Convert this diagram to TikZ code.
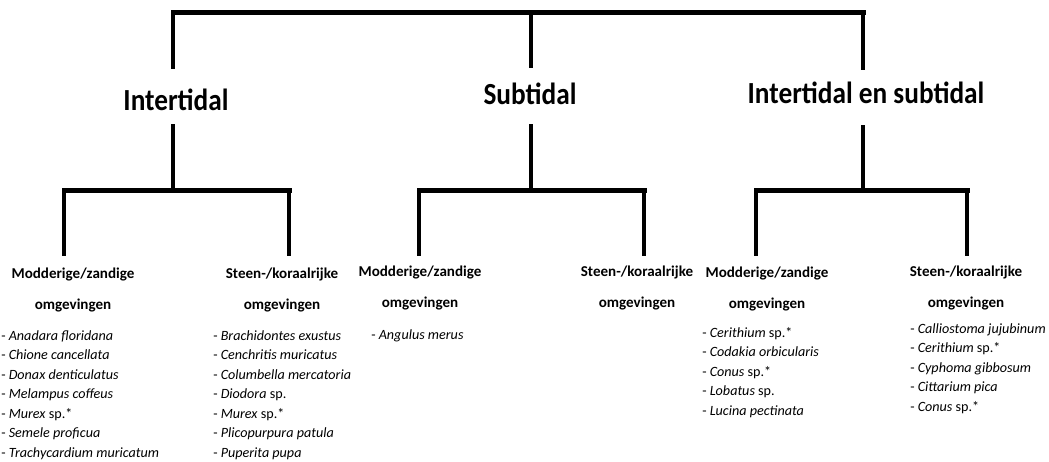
\documentclass[tikz,border=0pt]{standalone}
\usepackage{fontspec}
\setmainfont{Carlito}
\newfontfamily\zonefont[FakeStretch=0.89]{Carlito}
\usetikzlibrary{positioning}

\begin{document}
\begin{tikzpicture}[x=0.75pt,y=-0.75pt,
	crossbar/.style={line width=3.75pt,line cap=rect},
	stemline/.style={line width=2.6pt},
	zone/.style={font=\zonefont\bfseries\fontsize{23}{26}\selectfont,anchor=base,inner sep=0pt},
	habitat/.style={font=\bfseries\fontsize{11.3}{23.25}\selectfont,align=center,anchor=base,inner sep=0pt},
	species/.style={font=\fontsize{10.6}{14.6}\selectfont,align=left,anchor=base west,inner sep=0pt}]
	\useasboundingbox (0,0) rectangle (1049,461);

	% zones
	\node[zone] (inter) at (176,110) {Intertidal};
	\node[zone] (subt)  at (530,104) {Subtidal};
	\node[zone] (both)  at (866,103) {Intertidal en subtidal};

	% habitats (anchored at the last line)
	\node[habitat] (mudI)  at (73,309)  {Modderige/zandige\\omgevingen};
	\node[habitat] (rockI) at (282,309) {Steen-/koraalrijke\\omgevingen};
	\node[habitat] (mudS)  at (420,307) {Modderige/zandige\\omgevingen};
	\node[habitat] (rockS) at (637,307) {Steen-/koraalrijke\\omgevingen};
	\node[habitat] (mudB)  at (767,308) {Modderige/zandige\\omgevingen};
	\node[habitat] (rockB) at (966,307) {Steen-/koraalrijke\\omgevingen};

	% species (anchored at the last line)
	\node[species] (listMudI) at (1,457) {- \textit{Anadara floridana}\\- \textit{Chione cancellata}\\- \textit{Donax denticulatus}\\- \textit{Melampus coffeus}\\- \textit{Murex} sp.*\\- \textit{Semele proficua}\\- \textit{Trachycardium muricatum}};
	\node[species] (listRockI) at (213,457) {- \textit{Brachidontes exustus}\\- \textit{Cenchritis muricatus}\\- \textit{Columbella mercatoria}\\- \textit{Diodora} sp.\\- \textit{Murex} sp.*\\- \textit{Plicopurpura patula}\\- \textit{Puperita pupa}};
	\node[species] (listMudS) at (371,339) {- \textit{Angulus merus}};
	\node[species] (listMudB) at (702,415) {- \textit{Cerithium} sp.*\\- \textit{Codakia orbicularis}\\- \textit{Conus} sp.*\\- \textit{Lobatus} sp.\\- \textit{Lucina pectinata}};
	\node[species] (listRockB) at (910,411) {- \textit{Calliostoma jujubinum}\\- \textit{Cerithium} sp.*\\- \textit{Cyphoma gibbosum}\\- \textit{Cittarium pica}\\- \textit{Conus} sp.*};

	% tree lines
	\coordinate (topI) at (173,12);
	\coordinate (topS) at (531,12);
	\coordinate (topB) at (863,12);
	\coordinate (inI) at (173,69);
	\coordinate (inS) at (531,68);
	\coordinate (inB) at (863,70);
	\coordinate (outI) at (173,124);
	\coordinate (outS) at (531,124);
	\coordinate (outB) at (863,125);
	\coordinate (forkI) at (173,190);
	\coordinate (forkS) at (531,190);
	\coordinate (forkB) at (863,190);
	\coordinate (mudIa) at (64,190);
	\coordinate (rockIa) at (289,190);
	\coordinate (mudSa) at (419,190);
	\coordinate (rockSa) at (644,190);
	\coordinate (mudBa) at (756,190);
	\coordinate (rockBa) at (967,190);
	\coordinate (mudIb) at (64,256);
	\coordinate (rockIb) at (289,256);
	\coordinate (mudSb) at (419,256);
	\coordinate (rockSb) at (644,256);
	\coordinate (mudBb) at (756,256);
	\coordinate (rockBb) at (967,256);

	\draw[crossbar] (topI) -- (topB);
	\draw[crossbar] (mudIa) -- (rockIa);
	\draw[crossbar] (mudSa) -- (rockSa);
	\draw[crossbar] (mudBa) -- (rockBa);

	\draw[stemline] (topI) -- (inI);
	\draw[stemline] (topS) -- (inS);
	\draw[stemline] (topB) -- (inB);
	\draw[stemline] (outI) -- (forkI);
	\draw[stemline] (outS) -- (forkS);
	\draw[stemline] (outB) -- (forkB);

	\draw[stemline] (mudIa) -- (mudIb);
	\draw[stemline] (rockIa) -- (rockIb);
	\draw[stemline] (mudSa) -- (mudSb);
	\draw[stemline] (rockSa) -- (rockSb);
	\draw[stemline] (mudBa) -- (mudBb);
	\draw[stemline] (rockBa) -- (rockBb);
\end{tikzpicture}
\end{document}
